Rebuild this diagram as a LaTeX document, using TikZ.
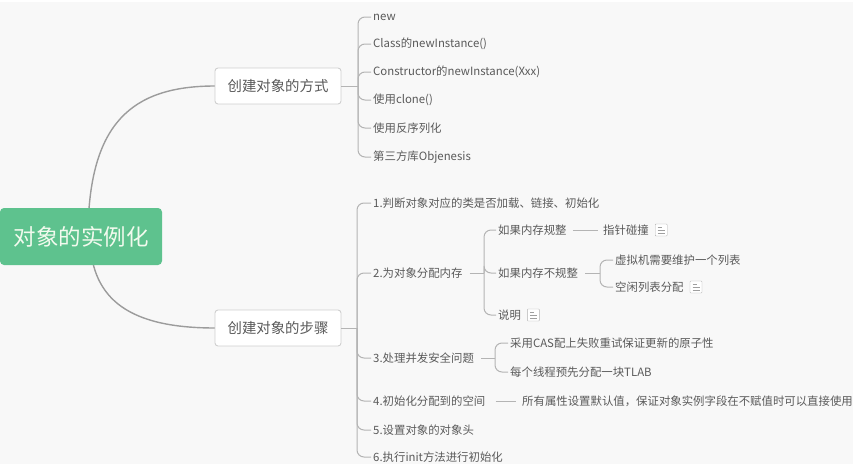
\documentclass[tikz,border=0pt]{standalone}
\usepackage{fontspec}
\setmainfont{Noto Sans CJK SC}
\definecolor{bgc}{HTML}{F8F8F8}
\definecolor{rootgreen}{HTML}{5EC28E}
\definecolor{roottext}{HTML}{F2FAEE}
\definecolor{txt}{HTML}{5A5A5A}
\definecolor{mainline}{HTML}{9C9C9C}
\definecolor{subline}{HTML}{B4B4B4}
\definecolor{boxline}{HTML}{CFCFCF}
\tikzset{
  rootbox/.style={fill=rootgreen, rounded corners=4pt, text=roottext, font=\fontsize{22.5}{26}\selectfont, minimum width=162pt, minimum height=57pt, inner sep=0pt},
  branchbox/.style={draw=boxline, line width=0.9pt, fill=white, rounded corners=3pt, text=txt, font=\fontsize{14.4}{17}\selectfont, minimum width=126pt, minimum height=36pt, inner sep=0pt},
  item/.style={anchor=west, text=txt, font=\fontsize{11.4}{13}\selectfont, inner xsep=2pt, inner ysep=0pt},
  mainconn/.style={draw=mainline, line width=1.4pt},
  subconn/.style={draw=subline, line width=1pt, rounded corners=7pt},
  noteicon/.style={draw=gray!60, fill=white, minimum size=12pt, inner sep=0pt, rounded corners=0.8pt,
    path picture={
      \draw[gray!75, line width=0.7pt]
        ([xshift=2.5pt,yshift=-3pt]path picture bounding box.north west) -- ++(4pt,0)
        ([xshift=2.5pt,yshift=-6pt]path picture bounding box.north west) -- ++(7pt,0)
        ([xshift=2.5pt,yshift=-9pt]path picture bounding box.north west) -- ++(7pt,0);
    }}
}
\begin{document}
\begin{tikzpicture}[x=1pt,y=-1pt]
\useasboundingbox (0,0) rectangle (861,471);
\fill[white] (0,0) rectangle (861,471);
\fill[bgc] (0,2) rectangle (853,464);

% main branches
\draw[mainconn] (88,230) .. controls (90,125) and (130,86) .. (215,86);
\draw[mainconn] (90,240) .. controls (92,300) and (130,328) .. (215,328);

\node[rootbox] (root) at (81,236.5) {对象的实例化};
\node[branchbox] (b1) at (278,86) {创建对象的方式};
\node[branchbox] (b2) at (278,328) {创建对象的步骤};

% branch 1 children
\coordinate (j1) at (358,86);
\node[item] (a1) at (371,17) {new};
\node[item] (a2) at (371,44) {Class的newInstance()};
\node[item] (a3) at (371,72) {Constructor的newInstance(Xxx)};
\node[item] (a4) at (371,100) {使用clone()};
\node[item] (a5) at (371,128) {使用反序列化};
\node[item] (a6) at (371,157) {第三方库Objenesis};
\draw[subconn] (b1.east) -- (j1);
\foreach \n in {a1,a2,a3,a4,a5,a6} { \draw[subconn] (j1) |- (\n.west); }

% branch 2 children
\coordinate (j2) at (357,328);
\node[item] (s1) at (371,203) {1.判断对象对应的类是否加载、链接、初始化};
\node[item] (s2) at (371,273) {2.为对象分配内存};
\node[item] (s3) at (371,358) {3.处理并发安全问题};
\node[item] (s4) at (371,401) {4.初始化分配到的空间};
\node[item] (s5) at (371,430) {5.设置对象的对象头};
\node[item] (s6) at (371,457) {6.执行init方法进行初始化};
\draw[subconn] (b2.east) -- (j2);
\foreach \n in {s1,s2,s3,s4,s5,s6} { \draw[subconn] (j2) |- (\n.west); }

% 2 sub
\coordinate (j3) at (484,273);
\node[item] (m1) at (496,230) {如果内存规整};
\node[item] (m2) at (496,273) {如果内存不规整};
\node[item] (m3) at (496,315) {说明};
\node[noteicon, anchor=west] (ic3) at ([xshift=4pt]m3.east) {};
\draw[subconn] ([xshift=5pt]s2.east) -- (j3);
\foreach \n in {m1,m2,m3} { \draw[subconn] (j3) |- (\n.west); }

\node[item] (p1) at (601,230) {指针碰撞};
\node[noteicon, anchor=west] (ic1) at ([xshift=4pt]p1.east) {};
\draw[subconn] ([xshift=4pt]m1.east) -- ([xshift=-3pt]p1.west);

\coordinate (j4) at (600,273);
\node[item] (q1) at (613,260) {虚拟机需要维护一个列表};
\node[item] (q2) at (613,287) {空闲列表分配};
\node[noteicon, anchor=west] (ic2) at ([xshift=4pt]q2.east) {};
\draw[subconn] ([xshift=5pt]m2.east) -- (j4);
\foreach \n in {q1,q2} { \draw[subconn] (j4) |- (\n.west); }

% 3 sub
\coordinate (j5) at (495,358);
\node[item] (r1) at (508,343) {采用CAS配上失败重试保证更新的原子性};
\node[item] (r2) at (508,372) {每个线程预先分配一块TLAB};
\draw[subconn] ([xshift=5pt]s3.east) -- (j5);
\foreach \n in {r1,r2} { \draw[subconn] (j5) |- (\n.west); }

% 4 sub
\node[item] (t1) at (520,401) {所有属性设置默认值，保证对象实例字段在不赋值时可以直接使用};
\draw[subconn] ([xshift=8pt]s4.east) -- ([xshift=-4pt]t1.west);
\end{tikzpicture}
\end{document}
